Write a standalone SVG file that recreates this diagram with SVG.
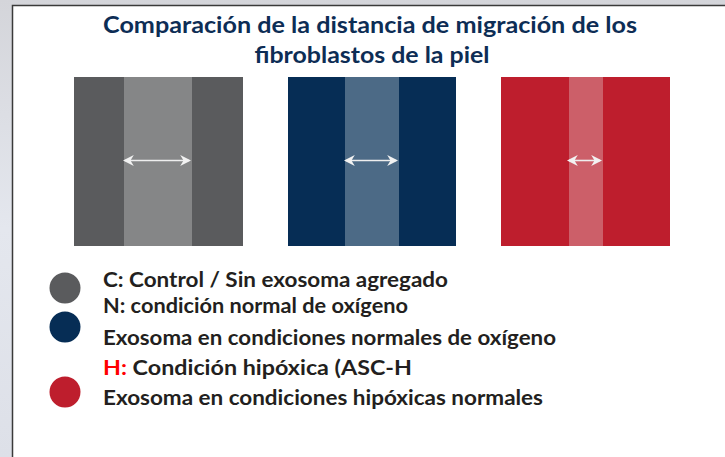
<svg xmlns="http://www.w3.org/2000/svg" width="725" height="457" viewBox="0 0 725 457">
<style>
.title{font-family:Lato,"Liberation Sans",sans-serif;font-weight:bold;font-size:23px;fill:#0d2d55}
.leg{font-family:Lato,"Liberation Sans",sans-serif;font-weight:bold;font-size:20px;fill:#231f20}
.arr{stroke:#eeeeee;stroke-width:1.6;fill:none;marker-start:url(#ah);marker-end:url(#ah)}
</style>
<defs>
<linearGradient id="bg" x1="0" y1="0" x2="0" y2="1">
<stop offset="0" stop-color="#d4d5da"/>
<stop offset="0.5" stop-color="#e4e7ee"/>
<stop offset="1" stop-color="#dde0e8"/>
</linearGradient>
<marker id="ah" viewBox="0 0 10 10" refX="8" refY="5" markerWidth="11" markerHeight="11" markerUnits="userSpaceOnUse" orient="auto-start-reverse">
<path d="M0,0 L10,5 L0,10 L3,5 Z" fill="#f2f2f2"/>
</marker>
</defs>
<rect x="0" y="0" width="725" height="457" fill="url(#bg)"/>
<rect x="12.5" y="5.5" width="730" height="470" fill="#ffffff" stroke="#3a3a3a" stroke-width="1.5"/>
<g id="title">
<text class="title" x="370" y="33" text-anchor="middle" textLength="534" lengthAdjust="spacingAndGlyphs">Comparación de la distancia de migración de los</text>
<text class="title" x="372" y="63" text-anchor="middle" textLength="235" lengthAdjust="spacingAndGlyphs">fibroblastos de la piel</text>
</g>
<g id="panel-control">
<rect x="74" y="77" width="169" height="169" fill="#5a5b5d"/>
<rect x="124" y="77" width="68" height="169" fill="#858687"/>
</g>
<g id="panel-normal">
<rect x="288" y="77" width="168" height="169" fill="#062d55"/>
<rect x="345" y="77" width="54" height="169" fill="#4c6a86"/>
</g>
<g id="panel-hypoxic">
<rect x="501" y="77" width="169" height="169" fill="#be1e2d"/>
<rect x="569" y="77" width="34" height="169" fill="#cc5f69"/>
</g>
<g id="connectors">
<line class="arr" x1="125" y1="160.5" x2="189" y2="160.5"/>
<line class="arr" x1="346" y1="160.5" x2="396" y2="160.5"/>
<line class="arr" x1="569" y1="160.5" x2="600" y2="160.5"/>
</g>
<g id="legend">
<circle cx="65" cy="288" r="15.5" fill="#5a5b5d"/>
<circle cx="65" cy="327" r="15.5" fill="#062d55"/>
<circle cx="65" cy="392" r="15.5" fill="#be1e2d"/>
<text class="leg" x="103" y="287" textLength="345" lengthAdjust="spacingAndGlyphs">C: Control / Sin exosoma agregado</text>
<text class="leg" x="103" y="313" textLength="305" lengthAdjust="spacingAndGlyphs">N: condición normal de oxígeno</text>
<text class="leg" x="103" y="345" textLength="453" lengthAdjust="spacingAndGlyphs">Exosoma en condiciones normales de oxígeno</text>
<text class="leg" x="103" y="375" textLength="309" lengthAdjust="spacingAndGlyphs"><tspan fill="#ff0000">H: </tspan>Condición hipóxica (ASC-H</text>
<text class="leg" x="103" y="405" textLength="440" lengthAdjust="spacingAndGlyphs">Exosoma en condiciones hipóxicas normales</text>
</g>
</svg>
